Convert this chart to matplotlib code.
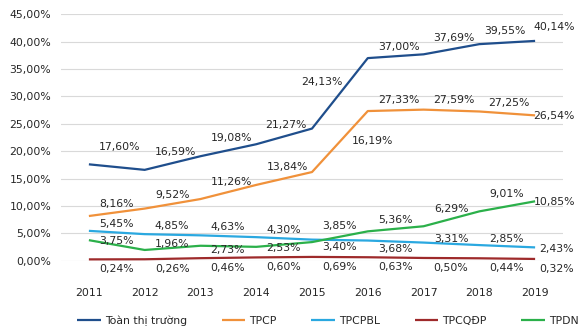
import numpy as np
import matplotlib
matplotlib.use('Agg')
import matplotlib.pyplot as plt

years = ['2011', '2012', '2013', '2014', '2015', '2016', '2017', '2018', '2019']
toan_thi_truong = [17.60, 16.59, 19.08, 21.27, 24.13, 37.00, 37.69, 39.55, 40.14]
tpcp = [8.16, 9.52, 11.26, 13.84, 16.19, 27.33, 27.59, 27.25, 26.54]
tpcpbl = [5.45, 4.85, 4.63, 4.30, 3.85, 3.68, 3.31, 2.85, 2.43]
tpcqdp = [0.24, 0.26, 0.46, 0.60, 0.69, 0.63, 0.50, 0.44, 0.32]
tpdn = [3.75, 1.96, 2.73, 2.53, 3.40, 5.36, 6.29, 9.01, 10.85]

# label offsets in pixels (dx, dy image-down)
off_total = [(31, -17), (31, -18), (31, -18), (30, -19), (10, -47), (31, -11), (30, -16), (26, -13), (19, -14)]
off_tpcp = [(28, -12), (27.5, -14), (31, -17), (31, -18), (60, -31), (31, -11), (30, -10), (30, -8), (19, 1)]
off_tpcpbl = [(28, -7), (27.5, -8), (27, -8), (27.5, -7), (27.5, -14), (27.5, 8), (27.5, -4), (27.5, -6), (21.7, 1.6)]
off_tpcqdp = [(28, 10), (27.5, 10), (27, 10), (27.5, 10), (27.5, 10), (27.5, 10), (27.5, 10), (27.5, 10), (21.7, 10.4)]
off_tpdn = [(28, 1), (27.5, -6), (27, 4), (27.5, 1.5), (27.5, 4.6), (27.5, -11), (27.5, -17), (27.5, -17), (19, 1)]

series = [
    ('Toàn thị trường', toan_thi_truong, '#1f4e8c', off_total),
    ('TPCP', tpcp, '#f0913a', off_tpcp),
    ('TPCPBL', tpcpbl, '#2aa8e0', off_tpcpbl),
    ('TPCQĐP', tpcqdp, '#9e2a2b', off_tpcqdp),
    ('TPDN', tpdn, '#2bb04a', off_tpdn),
]

plt.rcParams['font.family'] = ['DejaVu Sans']
fs = 7.8
txt = '#262626'

fig = plt.figure(figsize=(5.86, 3.35), dpi=100)
ax = fig.add_axes([61 / 586, 1 - 260.7 / 335, (563 - 61) / 586, (260.7 - 14.3) / 335])

x = np.arange(len(years))
for name, vals, color, offs in series:
    ax.plot(x, vals, color=color, linewidth=1.6, label=name, solid_capstyle='butt')
    for xi, v, (dx, dy) in zip(x, vals, offs):
        ax.annotate(f'{v:.2f}%'.replace('.', ','), (xi, v), xytext=(dx, -dy),
                    textcoords='offset pixels', ha='center', va='center',
                    fontsize=fs, color=txt)

ax.set_xlim(-0.5, len(years) - 0.5)
ax.set_ylim(0, 45)
ax.set_yticks(np.arange(0, 46, 5))
ax.set_yticklabels([f'{t:.2f}%'.replace('.', ',') for t in np.arange(0, 46, 5)])
ax.set_xticks(x)
ax.set_xticklabels(years)
ax.tick_params(axis='both', length=0, labelsize=fs, colors=txt)
ax.tick_params(axis='x', pad=19.6)
ax.tick_params(axis='y', pad=7)
for s in ax.spines.values():
    s.set_visible(False)
ax.grid(axis='y', color='#d9d9d9', linewidth=0.8)
ax.set_axisbelow(True)

fig.legend(loc='center', bbox_to_anchor=(328 / 586, 1 - 321 / 335), ncol=5,
           frameon=False, fontsize=fs, handlelength=2.15, handletextpad=0.4,
           columnspacing=3.2, labelcolor=txt)

fig.savefig('out.png', dpi=100)
